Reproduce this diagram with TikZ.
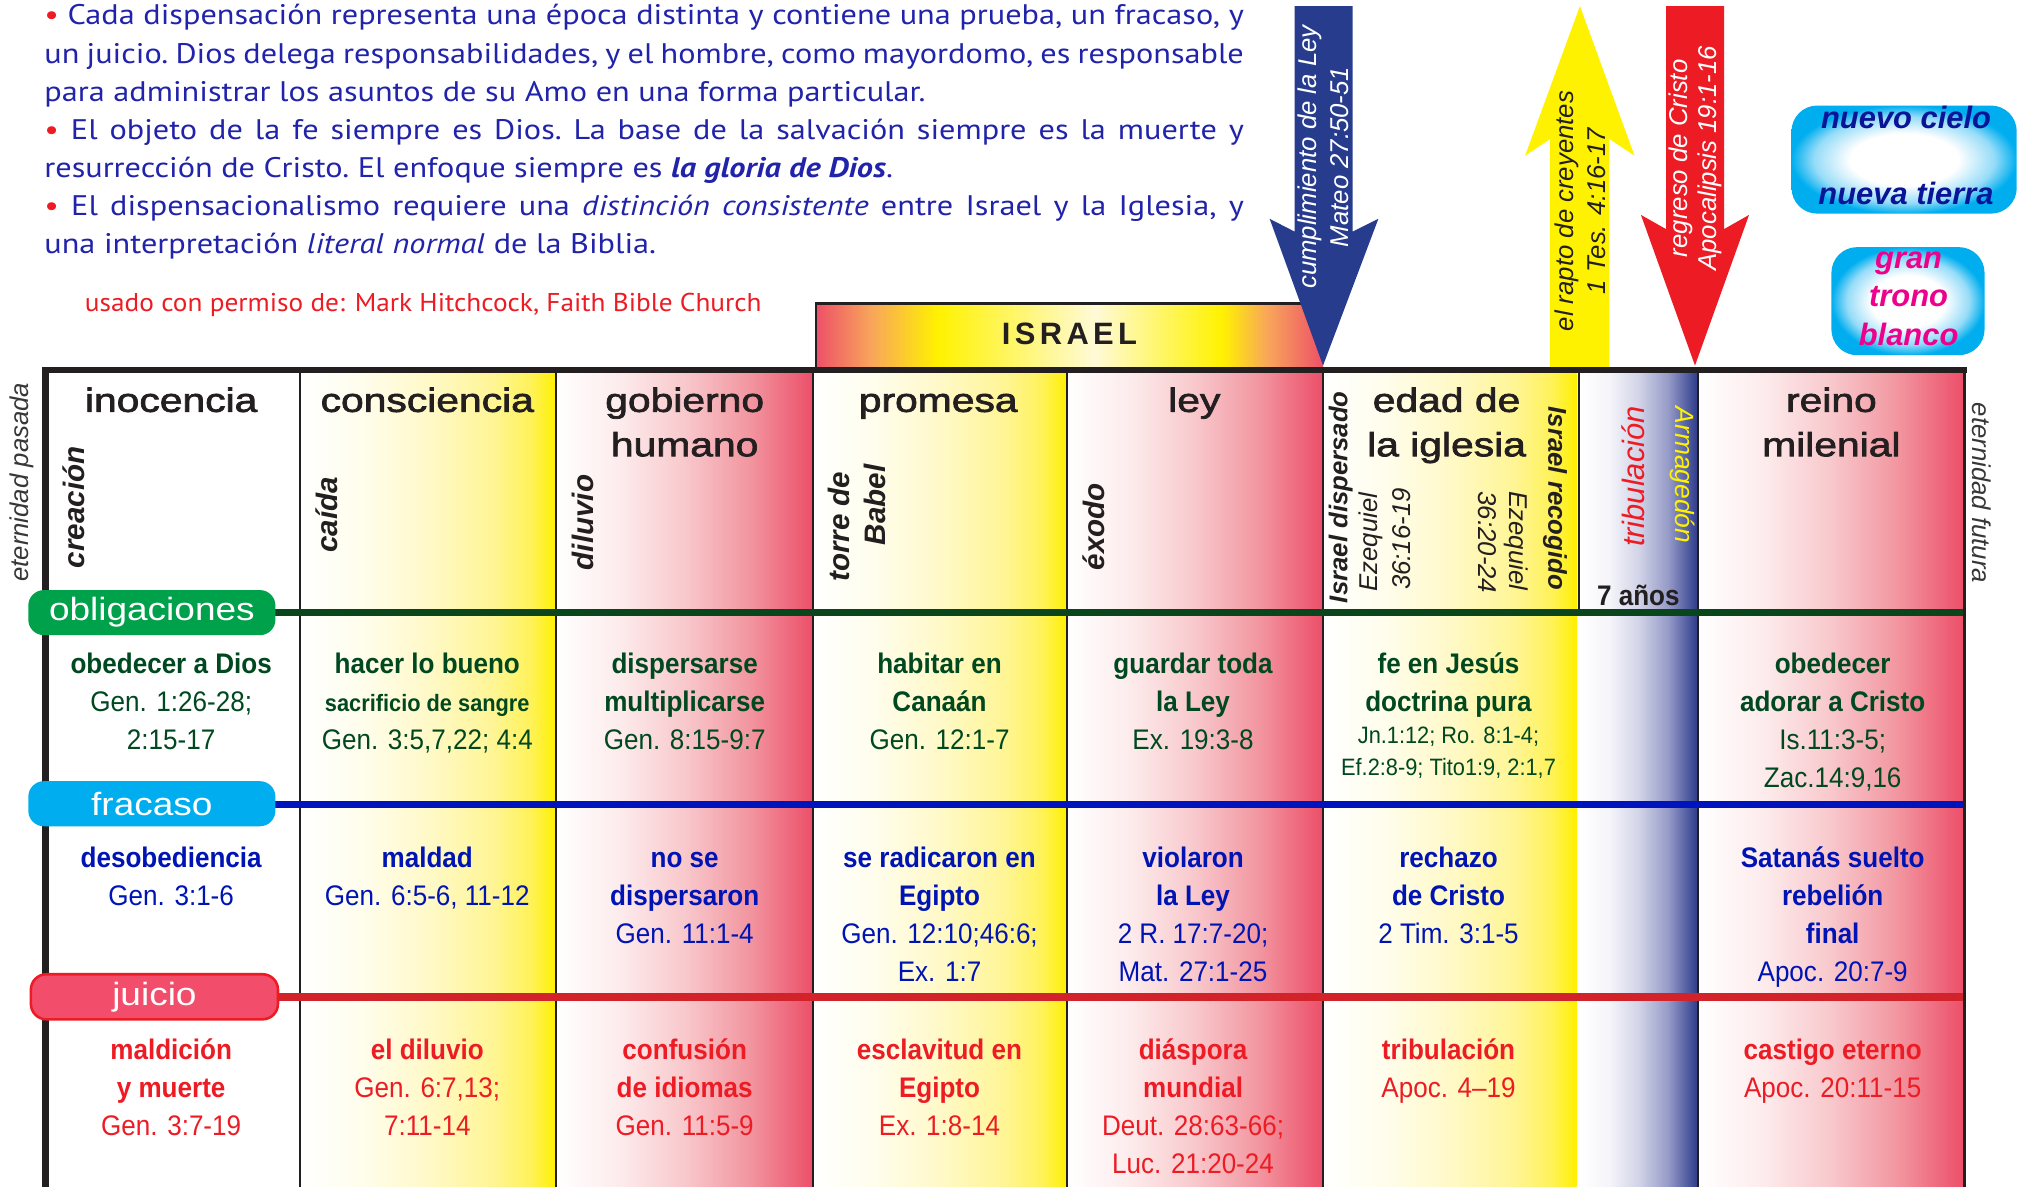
\documentclass[tikz,border=0pt]{standalone}
\usepackage{fontspec}
\setmainfont{Liberation Sans}
\newfontfamily\topfont[FakeStretch=1.14]{PT Sans}
\newfontfamily\credfont[FakeStretch=1.06]{PT Sans}
\newfontfamily\cellfont[FakeStretch=0.92]{Liberation Sans}
\newfontfamily\headfont[FakeStretch=1.22,FakeBold=2.2]{Liberation Sans}
\newfontfamily\pillfont[FakeStretch=1.15]{Liberation Sans}

\definecolor{topblue}{RGB}{33,35,170}
\definecolor{bulred}{RGB}{237,28,36}
\definecolor{cgreen}{RGB}{0,72,32}
\definecolor{cblue}{RGB}{0,20,180}
\definecolor{cred}{RGB}{237,28,36}
\definecolor{pgreen}{RGB}{0,161,75}
\definecolor{pcyan}{RGB}{0,174,239}
\definecolor{pred}{RGB}{242,78,108}
\definecolor{lgreen}{RGB}{10,70,28}
\definecolor{lblue}{RGB}{0,20,190}
\definecolor{lred}{RGB}{210,35,42}
\definecolor{arblue}{RGB}{40,60,142}
\definecolor{aryel}{RGB}{255,242,0}
\definecolor{arred}{RGB}{237,28,36}
\definecolor{boxblue}{RGB}{10,20,150}
\definecolor{boxmag}{RGB}{236,0,140}
\definecolor{tblack}{RGB}{35,31,32}
\definecolor{egray}{RGB}{55,55,55}
\definecolor{yA}{RGB}{255,253,235}
\definecolor{yB}{RGB}{255,249,200}
\definecolor{yC}{RGB}{255,245,150}
\definecolor{yD}{RGB}{255,242,90}
\definecolor{yE}{RGB}{255,240,0}
\definecolor{rA}{RGB}{253,235,236}
\definecolor{rB}{RGB}{248,200,204}
\definecolor{rC}{RGB}{242,150,160}
\definecolor{rD}{RGB}{236,78,104}
\definecolor{bA}{RGB}{245,245,250}
\definecolor{bB}{RGB}{210,212,232}
\definecolor{bC}{RGB}{150,155,200}
\definecolor{bD}{RGB}{45,60,140}
\definecolor{iR}{RGB}{238,80,104}
\definecolor{iO}{RGB}{248,166,90}
\definecolor{iY}{RGB}{255,242,0}
\definecolor{iP}{RGB}{255,250,215}
\definecolor{cyA}{RGB}{150,220,248}
\definecolor{cyB}{RGB}{0,174,239}

\pgfdeclarehorizontalshading{yelcol}{100bp}{color(0bp)=(white); color(25bp)=(white); color(37.5bp)=(yA); color(50bp)=(yB); color(62.5bp)=(yC); color(70bp)=(yD); color(75bp)=(yE); color(100bp)=(yE)}
\pgfdeclarehorizontalshading{redcol}{100bp}{color(0bp)=(white); color(25bp)=(white); color(37.5bp)=(rA); color(50bp)=(rB); color(62.5bp)=(rC); color(75bp)=(rD); color(100bp)=(rD)}
\pgfdeclarehorizontalshading{bluecol}{100bp}{color(0bp)=(white); color(25bp)=(white); color(37.5bp)=(bA); color(50bp)=(bB); color(62.5bp)=(bC); color(75bp)=(bD); color(100bp)=(bD)}
\pgfdeclarehorizontalshading{israel}{100bp}{color(0bp)=(iR); color(25bp)=(iR); color(30.5bp)=(iO); color(37bp)=(iY); color(52.5bp)=(iP); color(65bp)=(iY); color(69.5bp)=(iO); color(75bp)=(iR); color(100bp)=(iR)}
\pgfdeclareradialshading{cloud}{\pgfpoint{0bp}{0bp}}{color(0bp)=(white); color(12bp)=(white); color(20bp)=(cyA); color(25bp)=(cyB); color(50bp)=(cyB)}

\tikzset{
 txt/.style={inner sep=0pt, outer sep=0pt},
 toptext/.style={txt, anchor=base west, text=topblue, font=\topfont\frenchspacing\fontsize{11pt}{13pt}\selectfont},
 hdr/.style={txt, anchor=base, text=tblack, font=\headfont\fontsize{13pt}{15pt}\selectfont},
 vlab/.style={txt, text=tblack, font=\bfseries\itshape\fontsize{11.5pt}{13pt}\selectfont},
 vlabs/.style={txt, text=tblack, font=\bfseries\itshape\fontsize{10pt}{12pt}\selectfont},
 vref/.style={txt, text=tblack, font=\itshape\fontsize{10pt}{12pt}\selectfont},
 vup/.style={rotate=90, anchor=base west},
 vdown/.style={rotate=-90, anchor=base west},
 cb/.style={txt, anchor=base, font=\cellfont\bfseries\fontsize{11pt}{13pt}\selectfont},
 cr/.style={txt, anchor=base, font=\cellfont\fontsize{11pt}{13pt}\selectfont},
 cbs/.style={txt, anchor=base, font=\cellfont\bfseries\fontsize{9.2pt}{11pt}\selectfont},
 crs/.style={txt, anchor=base, font=\cellfont\fontsize{9.2pt}{11pt}\selectfont},
 ob/.style={text=cgreen}, fr/.style={text=cblue}, ju/.style={text=cred},
 pill/.style={rounded corners=6pt, minimum width=96pt, minimum height=17.5pt, inner sep=0pt, text=white, font=\pillfont\fontsize{12.5pt}{14pt}\selectfont},
 arrtext/.style={txt, rotate=90, align=center},
 cloudbox/.style={shade, shading=cloud, rounded corners=10pt, inner sep=0pt, minimum height=42pt},
 boxtext/.style={txt, anchor=base, font=\bfseries\itshape\fontsize{12pt}{14pt}\selectfont},
 colline/.style={draw=tblack, line width=0.75pt},
}

\begin{document}
\begin{tikzpicture}[x=0.5pt,y=-0.5pt]
\useasboundingbox (0,0) rectangle (1568,922);
\fill[white] (0,0) rectangle (1568,922);

% ---------- column shadings ----------
\shade[shading=yelcol] (233,290) rectangle (432,922);
\shade[shading=redcol] (432,290) rectangle (632,922);
\shade[shading=yelcol] (632,290) rectangle (829,922);
\shade[shading=redcol] (829,290) rectangle (1028,922);
\shade[shading=yelcol] (1028,290) rectangle (1225,922);
\shade[shading=bluecol] (1227,290) rectangle (1319,922);
\shade[shading=redcol] (1319,290) rectangle (1526,922);

% ---------- column lines ----------
\foreach \cx in {233,432,632,829,1028,1319} {\draw[colline] (\cx,290) -- (\cx,922);}
\draw[colline] (1227,290) -- (1227,476);

% ---------- row lines ----------
\draw[lgreen, line width=2.8pt] (35,476) -- (1526,476);
\draw[lblue, line width=2.8pt] (35,625) -- (1526,625);
\draw[lred, line width=3pt] (35,774.5) -- (1526,774.5);

% ---------- table frame ----------
\draw[tblack, line width=2.5pt] (33,287.5) -- (1528,287.5);
\draw[tblack, line width=2.5pt] (35.5,286) -- (35.5,922);
\draw[tblack, line width=1pt] (1526.5,286) -- (1526.5,922);

% ---------- ISRAEL bar ----------
\shade[shading=israel] (634,236) rectangle (1028,285);
\draw[tblack, line width=1pt] (1028,236) -- (634,236) -- (634,285);
\node[txt, anchor=base, font=\bfseries\fontsize{12pt}{14pt}\selectfont, text=tblack] (isr) at (831,268) {I\kern1.7pt S\kern1.7pt R\kern1.7pt A\kern1.7pt E\kern1.7pt L};

% ---------- arrows ----------
\fill[arblue] (1006,4.7) -- (1051,4.7) -- (1051,180) -- (1071,170) -- (1028,284) -- (986.5,170) -- (1006,180) -- cycle;
\fill[aryel] (1204.5,285) -- (1250.5,285) -- (1250.5,108) -- (1270,121) -- (1227.6,4.7) -- (1185,121) -- (1204.5,108) -- cycle;
\fill[arred] (1294.5,4.7) -- (1339.6,4.7) -- (1339.6,178) -- (1359,167) -- (1317,284) -- (1275,167) -- (1294.5,178) -- cycle;

\node[arrtext, text=white, font=\itshape\fontsize{10pt}{12.5pt}\selectfont] (ablue) at (1028.5,122) {cumplimiento de la Ley\\Mateo 27:50-51};
\node[arrtext, text=tblack, font=\itshape\fontsize{10pt}{12.2pt}\selectfont] (ayel) at (1228,164) {el rapto de creyentes\\1 Tes. 4:16-17};
\node[arrtext, text=white, font=\itshape\fontsize{10pt}{11.2pt}\selectfont] (ared) at (1317,123) {regreso de Cristo\\Apocalipsis 19:1-16};

% ---------- boxes top right ----------
\node[cloudbox, minimum width=87.5pt] (bnuevo) at (1479.5,124) {};
\node[cloudbox, minimum width=59.5pt] (bgran) at (1482.5,234) {};
\node[boxtext, text=boxblue] (nc) at (1481,99.7) {nuevo cielo};
\node[boxtext, text=boxblue] (nt) at (1481,159) {nueva tierra};
\node[boxtext, text=boxmag] (gr) at (1483,208.5) {gran};
\node[boxtext, text=boxmag] (tr) at (1483,238.5) {trono};
\node[boxtext, text=boxmag] (bl) at (1483,268.5) {blanco};

% ---------- top text ----------
\node[toptext] (t1) at (34.5,19.4) {\makebox[466pt][s]{\textcolor{bulred}{•} Cada dispensación representa una época distinta y contiene una prueba, un fracaso, y}};
\node[toptext] (t2) at (34.5,48.95) {\makebox[466pt][s]{un juicio. Dios delega responsabilidades, y el hombre, como mayordomo, es responsable}};
\node[toptext] (t3) at (34.5,78.5) {para administrar los asuntos de su Amo en una forma particular.};
\node[toptext] (t4) at (34.5,108.05) {\makebox[466pt][s]{\textcolor{bulred}{•} El objeto de la fe siempre es Dios. La base de la salvación siempre es la muerte y}};
\node[toptext] (t5) at (34.5,137.6) {resurrección de Cristo. El enfoque siempre es \textbf{\textit{la gloria de Dios}}.};
\node[toptext] (t6) at (34.5,167.15) {\makebox[466pt][s]{\textcolor{bulred}{•} El dispensacionalismo requiere una \textit{distinción consistente} entre Israel y la Iglesia, y}};
\node[toptext] (t7) at (34.5,196.7) {una interpretación \textit{literal normal} de la Biblia.};
\node[txt, anchor=base west, text=cred, font=\credfont\fontsize{10pt}{12pt}\selectfont] (cred) at (66,242) {usado con permiso de: Mark Hitchcock, Faith Bible Church};

% ---------- side labels ----------
\node[txt, vup, text=egray, font=\itshape\fontsize{10pt}{12pt}\selectfont] (epas) at (22.5,452) {eternidad pasada};
\node[txt, vdown, text=egray, font=\itshape\fontsize{10pt}{12pt}\selectfont] (efut) at (1533,313) {eternidad futura};

% ---------- header titles ----------
\node[hdr] (h1) at (133,320) {inocencia};
\node[hdr] (h2) at (332,320) {consciencia};
\node[hdr] (h3a) at (532,320) {gobierno};
\node[hdr] (h3b) at (532,354.5) {humano};
\node[hdr] (h4) at (729,320) {promesa};
\node[hdr] (h5) at (928,320) {ley};
\node[hdr] (h6a) at (1124,320) {edad de};
\node[hdr] (h6b) at (1124,354.5) {la iglesia};
\node[hdr] (h8a) at (1423,320) {reino};
\node[hdr] (h8b) at (1423,354.5) {milenial};

% ---------- vertical header labels ----------
\node[vlab, vup] (vcre) at (66,441.5) {creación};
\node[vlab, vup] (vcai) at (262.5,429.5) {caída};
\node[vlab, vup] (vdil) at (461,443) {diluvio};
\node[vlab, vup] (vtor) at (660,452) {torre de};
\node[vlab, rotate=90, anchor=base east] (vbab) at (688,361) {Babel};
\node[vlab, vup] (vexo) at (858,443) {éxodo};
\node[vlabs, vup] (vidis) at (1047,468.6) {Israel dispersado};
\node[vref, vup] (vez1) at (1070,459.7) {Ezequiel};
\node[vref, vup] (vez1n) at (1096,458.4) {36:16-19};
\node[vlabs, vdown] (vireg) at (1203,316) {Israel recogido};
\node[vref, vdown] (vez2) at (1172.5,382) {Ezequiel};
\node[vref, vdown] (vez2n) at (1149,382) {36:20-24};
\node[txt, vup, text=cred, font=\itshape\fontsize{12pt}{14pt}\selectfont] (vtrib) at (1277.5,425) {tribulación};
\node[txt, vdown, text=aryel, font=\itshape\fontsize{10.25pt}{12pt}\selectfont] (varm) at (1302,316) {Armagedón};
\node[txt, anchor=base, text=tblack, font=\cellfont\bfseries\fontsize{11pt}{13pt}\selectfont] (siete) at (1273,470.5) {7 años};

% ---------- pills ----------
\node[pill, fill=pgreen] (pob) at (118,476) {obligaciones};
\node[pill, fill=pcyan] (pfr) at (118,624.5) {fracaso};
\node[pill, fill=pred, draw=arred, line width=1pt] (pju) at (120,774.5) {juicio};

% ---------- row obligaciones ----------
\node[cb,ob] (o1a) at (133,523) {obedecer a Dios};
\node[cr,ob] (o1b) at (133,552.5) {Gen. 1:26-28;};
\node[cr,ob] (o1c) at (133,582) {2:15-17};
\node[cb,ob] (o2a) at (332,523) {hacer lo bueno};
\node[cbs,ob] (o2b) at (332,552.5) {sacrificio de sangre};
\node[cr,ob] (o2c) at (332,582) {Gen. 3:5,7,22; 4:4};
\node[cb,ob] (o3a) at (532,523) {dispersarse};
\node[cb,ob] (o3b) at (532,552.5) {multiplicarse};
\node[cr,ob] (o3c) at (532,582) {Gen. 8:15-9:7};
\node[cb,ob] (o4a) at (730,523) {habitar en};
\node[cb,ob] (o4b) at (730,552.5) {Canaán};
\node[cr,ob] (o4c) at (730,582) {Gen. 12:1-7};
\node[cb,ob] (o5a) at (927,523) {guardar toda};
\node[cb,ob] (o5b) at (927,552.5) {la Ley};
\node[cr,ob] (o5c) at (927,582) {Ex. 19:3-8};
\node[cb,ob] (o6a) at (1125.5,523) {fe en Jesús};
\node[cb,ob] (o6b) at (1125.5,552.5) {doctrina pura};
\node[crs,ob] (o6c) at (1125.5,578) {Jn.1:12; Ro. 8:1-4;};
\node[crs,ob] (o6d) at (1125.5,602.3) {Ef.2:8-9; Tito1:9, 2:1,7};
\node[cb,ob] (o8a) at (1424,523) {obedecer};
\node[cb,ob] (o8b) at (1424,552.5) {adorar a Cristo};
\node[cr,ob] (o8c) at (1424,582) {Is.11:3-5;};
\node[cr,ob] (o8d) at (1424,611.5) {Zac.14:9,16};

% ---------- row fracaso ----------
\node[cb,fr] (f1a) at (133,674) {desobediencia};
\node[cr,fr] (f1b) at (133,703.5) {Gen. 3:1-6};
\node[cb,fr] (f2a) at (332,674) {maldad};
\node[cr,fr] (f2b) at (332,703.5) {Gen. 6:5-6, 11-12};
\node[cb,fr] (f3a) at (532,674) {no se};
\node[cb,fr] (f3b) at (532,703.5) {dispersaron};
\node[cr,fr] (f3c) at (532,733) {Gen. 11:1-4};
\node[cb,fr] (f4a) at (730,674) {se radicaron en};
\node[cb,fr] (f4b) at (730,703.5) {Egipto};
\node[cr,fr] (f4c) at (730,733) {Gen. 12:10;46:6;};
\node[cr,fr] (f4d) at (730,762.5) {Ex. 1:7};
\node[cb,fr] (f5a) at (927,674) {violaron};
\node[cb,fr] (f5b) at (927,703.5) {la Ley};
\node[cr,fr] (f5c) at (927,733) {2 R. 17:7-20;};
\node[cr,fr] (f5d) at (927,762.5) {Mat. 27:1-25};
\node[cb,fr] (f6a) at (1125.5,674) {rechazo};
\node[cb,fr] (f6b) at (1125.5,703.5) {de Cristo};
\node[cr,fr] (f6c) at (1125.5,733) {2 Tim. 3:1-5};
\node[cb,fr] (f8a) at (1424,674) {Satanás suelto};
\node[cb,fr] (f8b) at (1424,703.5) {rebelión};
\node[cb,fr] (f8c) at (1424,733) {final};
\node[cr,fr] (f8d) at (1424,762.5) {Apoc. 20:7-9};

% ---------- row juicio ----------
\node[cb,ju] (j1a) at (133,823) {maldición};
\node[cb,ju] (j1b) at (133,852.5) {y muerte};
\node[cr,ju] (j1c) at (133,882) {Gen. 3:7-19};
\node[cb,ju] (j2a) at (332,823) {el diluvio};
\node[cr,ju] (j2b) at (332,852.5) {Gen. 6:7,13;};
\node[cr,ju] (j2c) at (332,882) {7:11-14};
\node[cb,ju] (j3a) at (532,823) {confusión};
\node[cb,ju] (j3b) at (532,852.5) {de idiomas};
\node[cr,ju] (j3c) at (532,882) {Gen. 11:5-9};
\node[cb,ju] (j4a) at (730,823) {esclavitud en};
\node[cb,ju] (j4b) at (730,852.5) {Egipto};
\node[cr,ju] (j4c) at (730,882) {Ex. 1:8-14};
\node[cb,ju] (j5a) at (927,823) {diáspora};
\node[cb,ju] (j5b) at (927,852.5) {mundial};
\node[cr,ju] (j5c) at (927,882) {Deut. 28:63-66;};
\node[cr,ju] (j5d) at (927,911.5) {Luc. 21:20-24};
\node[cb,ju] (j6a) at (1125.5,823) {tribulación};
\node[cr,ju] (j6b) at (1125.5,852.5) {Apoc. 4–19};
\node[cb,ju] (j8a) at (1424,823) {castigo eterno};
\node[cr,ju] (j8b) at (1424,852.5) {Apoc. 20:11-15};
\end{tikzpicture}
\end{document}
